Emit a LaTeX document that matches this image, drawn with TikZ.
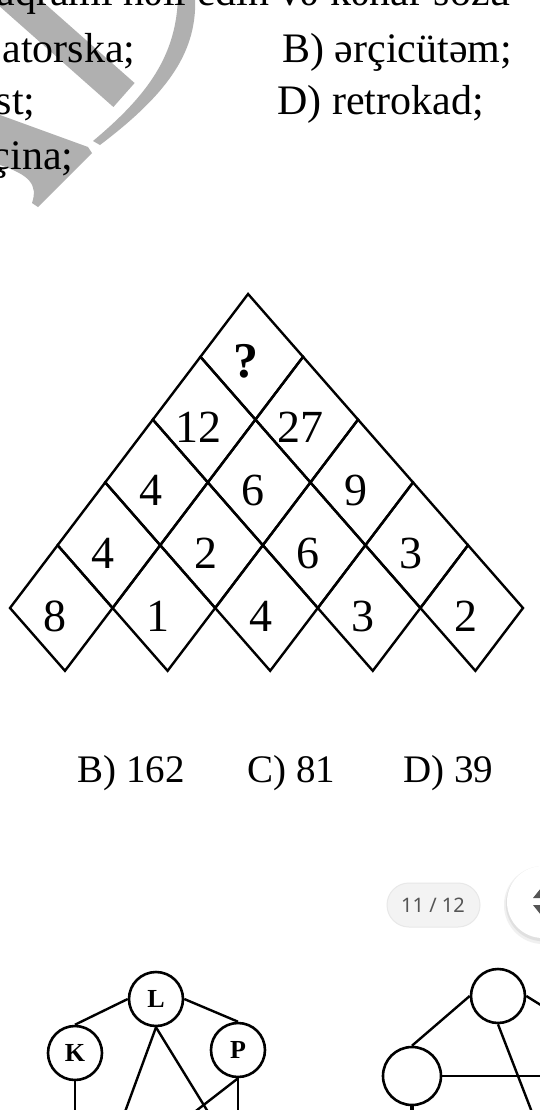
\documentclass[tikz,border=0pt]{standalone}
\usepackage{fontspec}
\setmainfont{Liberation Serif}
\newfontfamily\badgefont{Noto Sans}
\newcommand{\qfont}{\fontsize{21}{25}\selectfont}
\newcommand{\cellfont}{\fontsize{23}{27}\selectfont}
\newcommand{\ansfont}{\fontsize{19.5}{23}\selectfont}
\newcommand{\letterfont}{\fontsize{13}{15}\selectfont\bfseries}
\colorlet{markgray}{black!31}
\definecolor{badgegray}{HTML}{F3F3F3}
\definecolor{badgetext}{HTML}{555555}
\tikzset{
  qtext/.style={inner sep=0pt, font=\qfont},
  anstext/.style={inner sep=0pt, font=\ansfont},
  cell/.style={draw, line width=1.2pt, line join=miter},
  cellnum/.style={inner sep=0pt, font=\cellfont, yshift=-4pt, xshift=-3pt},
  vertex/.style={circle, draw, fill=white, line width=1.3pt, minimum size=27pt, inner sep=0pt, font=\letterfont},
  edge/.style={line width=1.2pt},
}

\begin{document}
\begin{tikzpicture}[x=0.5pt, y=-0.5pt]
  \clip (0,0) rectangle (540,1110);
  \fill[white] (0,0) rectangle (540,1110);
  \draw[markgray, line width=16pt] (3,-12) -- (124,95);
  \fill[markgray] (195,-5) .. controls (198,50) and (170,92) .. (100,145) -- (93,141) .. controls (148,95) and (177,55) .. (178,-5) -- cycle;
  \fill[markgray] (0,115) -- (88,147) -- (92,153) -- (38,207) -- (32,203) .. controls (38,185) and (30,175) .. (0,165) -- cycle;
  \node[qtext, anchor=base west] (head) at (-4,5) {aqramı həll edin və kənar sözü};
  \node[qtext, anchor=base east] (optA) at (136,62) {atorska;};
  \node[qtext, anchor=base west] (optB) at (282,62) {B) ərçicütəm;};
  \node[qtext, anchor=base east] (optC) at (36,114) {st;};
  \node[qtext, anchor=base west] (optD) at (277,114) {D) retrokad;};
  \node[qtext, anchor=base east] (optE) at (74,169) {çina;};
  \begin{scope}[shift={(10,608)}, xslant=-0.0587]
    \foreach \r in {0,...,4} {
      \pgfmathtruncatemacro{\last}{4-\r}
      \foreach \i in {0,...,\last}
        \draw[cell] ({51.3*(2*\i+\r)}, {-62.8*\r}) -- ++(51.3,-62.8) -- ++(51.3,62.8) -- ++(-51.3,62.8) -- cycle;
    }
    \foreach \r/\vals in {0/{8,1,4,3,2}, 1/{4,2,6,3}, 2/{4,6,9}, 3/{12,27}}
      \foreach \v [count=\i from 0] in \vals
        \node[cellnum] (c\r\i) at ({51.3*(2*\i+\r+1)}, {-62.8*\r}) {\v};
    \node[cellnum, font=\fontsize{25}{29}\selectfont\bfseries, yshift=2pt] (ctop) at ({51.3*5}, {-62.8*4}) {?};
  \end{scope}
  \node[anstext, anchor=base west] (ansB) at (77,782) {B) 162};
  \node[anstext, anchor=base west] (ansC) at (247,782) {C) 81};
  \node[anstext, anchor=base west] (ansD) at (403,782) {D) 39};
  \draw[fill=badgegray, draw=black!9, line width=0.5pt, rounded corners=11pt] (387,883) rectangle (480,927);
  \node[inner sep=0pt, font=\badgefont\fontsize{10}{12}\selectfont, text=badgetext] (page) at (433,905) {11 / 12};
  \fill[black!6] (543,905) circle[radius=19.5pt];
  \fill[black!12] (543,904) circle[radius=18.6pt];
  \fill[white] (543,902) circle[radius=18pt];
  \fill[badgetext] (541,888) -- (549,898) -- (533,898) -- cycle;
  \fill[badgetext] (541,915) -- (549,905) -- (533,905) -- cycle;
  \node[vertex] (L) at (156,999) {L};
  \node[vertex] (K) at (75,1053) {K};
  \node[vertex] (P) at (238,1050) {P};
  \coordinate (kend) at (75,1120);
  \coordinate (lleft) at (122,1120);
  \coordinate (lright) at (213,1120);
  \coordinate (pleft) at (192,1114);
  \coordinate (pend) at (238,1120);
  \draw[edge] (L.west) -- (K.north);
  \draw[edge] (L.east) -- (P.north);
  \draw[edge] (L.south) -- (lleft);
  \draw[edge] (L.south) -- (lright);
  \draw[edge] (P.south) -- (pleft);
  \draw[edge] (P.south) -- (pend);
  \draw[edge] (K.south) -- (kend);
  \node[vertex, minimum size=27pt] (T) at (498,996) {};
  \node[vertex, minimum size=29pt] (S) at (412,1076) {};
  \coordinate (tright) at (552,1012);
  \coordinate (tdown) at (535,1120);
  \coordinate (sright) at (550,1076);
  \coordinate (sdown) at (412,1120);
  \draw[edge] (T.west) -- (S.north);
  \draw[edge] (T.east) -- (tright);
  \draw[edge] (T.south) -- (tdown);
  \draw[edge] (S.east) -- (sright);
  \draw[edge, line width=2pt] (S.south) -- (sdown);
\end{tikzpicture}
\end{document}
